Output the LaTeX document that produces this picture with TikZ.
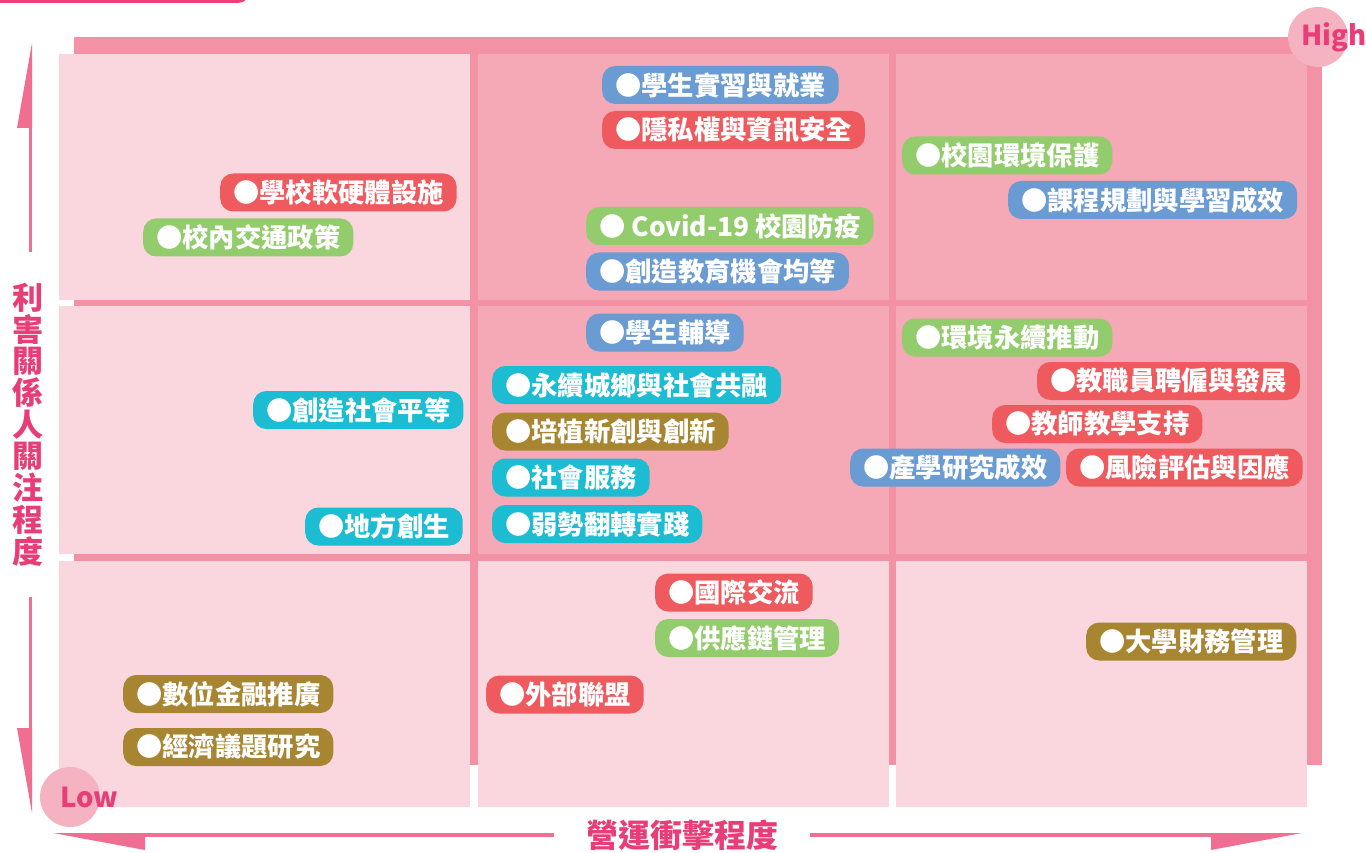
\documentclass[tikz,border=0pt]{standalone}
\usepackage{fontspec}
\setmainfont{Noto Sans CJK TC}
\definecolor{backpink}{HTML}{F391A5}
\definecolor{celllight}{HTML}{FAD7DE}
\definecolor{cellmid}{HTML}{F5A8B5}
\definecolor{axispink}{HTML}{F06E91}
\definecolor{labelpink}{HTML}{E93D78}
\definecolor{circpink}{HTML}{F5B2C1}
\definecolor{barpink}{HTML}{EE3F7A}
\definecolor{tagred}{HTML}{EF5A5F}
\definecolor{taggreen}{HTML}{93CC6C}
\definecolor{tagblue}{HTML}{6A9BD2}
\definecolor{tagteal}{HTML}{1CBCD2}
\definecolor{tagolive}{HTML}{A88530}
\tikzstyle{cell}=[fill=celllight]
\tikzstyle{cell hot}=[fill=cellmid]
\tikzstyle{topic}=[anchor=west,rounded corners=13pt,text=white,inner xsep=13pt,inner ysep=0pt,
                   minimum height=38pt,font=\fontsize{26.3}{26.3}\selectfont\bfseries]
\tikzstyle{axis}=[fill=axispink]
\tikzstyle{axis label}=[text=labelpink,font=\fontsize{32}{32}\selectfont\bfseries]
\tikzstyle{level}=[circle,fill=circpink,minimum size=60pt,inner sep=0pt]
\tikzstyle{level text}=[text=labelpink,font=\fontsize{27.5}{27.5}\selectfont\bfseries,inner sep=0pt]

\begin{document}
\begin{tikzpicture}[x=1pt,y=-1pt]
  \useasboundingbox (0,0) rectangle (1366,853);

  % top bar (cut off)
  \fill[barpink] (-30,-30) [rounded corners=12pt] -- (-30,3) -- (250,3) -- (250,-30);

  % BACKING AND CELLS
  \fill[backpink] (74,37) rectangle (1322,765);
  \foreach \xa/\xb/\ya/\yb/\s in {59/470/54/300/cell,  478/889/54/300/cell hot, 896/1307/54/300/cell hot,
                                  59/470/306/554/cell, 478/889/306/554/cell hot, 896/1307/306/554/cell hot,
                                  59/470/561/807/cell, 478/889/561/807/cell, 896/1307/561/807/cell}{
    \fill[\s] (\xa,\ya) rectangle (\xb,\yb);
  }

  % HIGH / LOW
  \node[level] (high) at (1318,37) {};
  \node[level text] at (1334,37) {High};
  \node[level] (low) at (70,797) {};
  \node[level text] at (89,797) {Low};

  % TOPICS, top row
  \node[topic,fill=tagred]   (softhard) at (220,192.5) {●學校軟硬體設施};
  \node[topic,fill=taggreen] (traffic)  at (143,237.5) {●校內交通政策};
  \node[topic,fill=tagblue]  (intern)   at (602,85)    {●學生實習與就業};
  \node[topic,fill=tagred]   (privacy)  at (602,130)   {●隱私權與資訊安全};
  \node[topic,fill=taggreen] (covid)    at (586,226)   {● Covid-19 校園防疫};
  \node[topic,fill=tagblue]  (equal)    at (586,271.5) {●創造教育機會均等};
  \node[topic,fill=taggreen] (campus)   at (902,155.5) {●校園環境保護};
  \node[topic,fill=tagblue]  (course)   at (1008,200)  {●課程規劃與學習成效};

  % TOPICS, middle row
  \node[topic,fill=tagteal]  (social)   at (253,410)   {●創造社會平等};
  \node[topic,fill=tagteal]  (local)    at (305,526.5) {●地方創生};
  \node[topic,fill=tagblue]  (counsel)  at (586,332.5) {●學生輔導};
  \node[topic,fill=tagteal]  (urban)    at (492,385)   {●永續城鄉與社會共融};
  \node[topic,fill=tagolive] (startup)  at (492,431.5) {●培植新創與創新};
  \node[topic,fill=tagteal]  (service)  at (492,477.5) {●社會服務};
  \node[topic,fill=tagteal]  (turn)     at (492,524)   {●弱勢翻轉實踐};
  \node[topic,fill=taggreen] (envsus)   at (902,337.5) {●環境永續推動};
  \node[topic,fill=tagred]   (staff)    at (1037,381)  {●教職員聘僱與發展};
  \node[topic,fill=tagred]   (teach)    at (992,424)   {●教師教學支持};
  \node[topic,fill=tagblue]  (research) at (850,467.5) {●產學研究成效};
  \node[topic,fill=tagred]   (risk)     at (1066,467.5){●風險評估與因應};

  % TOPICS, bottom row
  \node[topic,fill=tagolive] (fintech)  at (123,694)   {●數位金融推廣};
  \node[topic,fill=tagolive] (economy)  at (123,747)   {●經濟議題研究};
  \node[topic,fill=tagred]   (intl)     at (655,592.5) {●國際交流};
  \node[topic,fill=taggreen] (supply)   at (655,638)   {●供應鏈管理};
  \node[topic,fill=tagred]   (alliance) at (486,694.5) {●外部聯盟};
  \node[topic,fill=tagolive] (finance)  at (1086,641.5){●大學財務管理};

  % AXES
  \coordinate (Ytop) at (32,43);
  \coordinate (Ybot) at (32,813);
  \coordinate (Xl) at (53,833);
  \coordinate (Xr) at (1302,833);
  \fill[axis] (Ytop) -- (17,128) -- (32,128) -- cycle;
  \fill[axis] (28.5,128) rectangle (32,252);
  \fill[axis] (28.5,597) rectangle (32,728);
  \fill[axis] (Ybot) -- (17,728) -- (32,728) -- cycle;
  \fill[axis] (Xl) -- (145,833) -- (145,850) -- cycle;
  \fill[axis] (145,833) rectangle (554,837);
  \fill[axis] (810,833) rectangle (1211,837);
  \fill[axis] (Xr) -- (1211,833) -- (1211,850) -- cycle;

  % LABELS
  \node[axis label,align=center,font=\fontsize{31}{31.7}\selectfont\bfseries] (ylab) at (28,424.5)
    {利\\害\\關\\係\\人\\關\\注\\程\\度};
  \node[axis label] (xlab) at (682,835) {營運衝擊程度};

\end{tikzpicture}
\end{document}
